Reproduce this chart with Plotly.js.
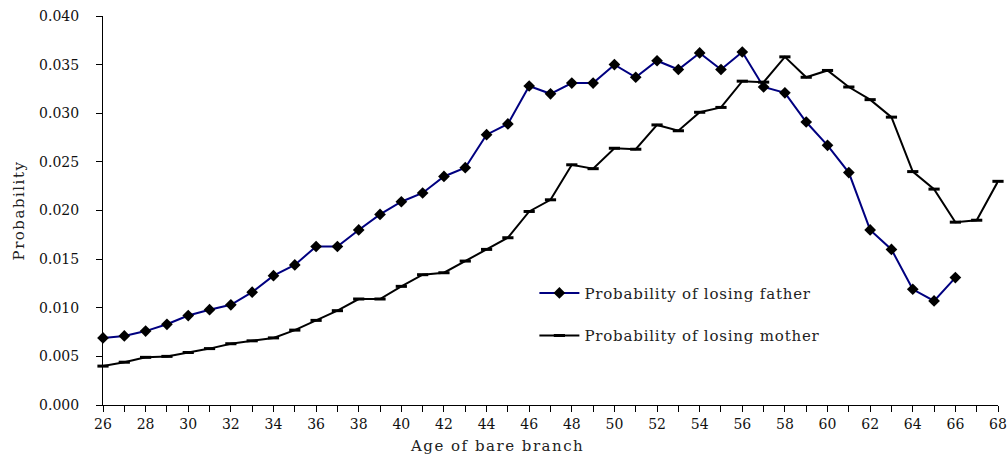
<!DOCTYPE html>
<html>
<head>
<meta charset="utf-8">
<script src="https://cdn.plot.ly/plotly-3.0.1.min.js"></script>
<style>
html,body{margin:0;padding:0;background:#fff;}
#chart{width:1008px;height:458px;}
.legendtext{letter-spacing:0.8px;}
.ytitle,.annotation-text{letter-spacing:1.5px;}
</style>
</head>
<body>
<div id="chart"></div>
<script>
const ages = [26,27,28,29,30,31,32,33,34,35,36,37,38,39,40,41,42,43,44,45,46,47,48,49,50,51,52,53,54,55,56,57,58,59,60,61,62,63,64,65,66,67,68];
const fatherAges = [26,27,28,29,30,31,32,33,34,35,36,37,38,39,40,41,42,43,44,45,46,47,48,49,50,51,52,53,54,55,56,57,58,59,60,61,62,63,64,65,66];
const fatherProb = [0.0069,0.0071,0.0076,0.0083,0.0092,0.0098,0.0103,0.0116,0.0133,0.0144,0.0163,0.0163,0.0180,0.0196,0.0209,0.0218,0.0235,0.0244,0.0278,0.0289,0.0328,0.0320,0.0331,0.0331,0.0350,0.0337,0.0354,0.0345,0.0362,0.0345,0.0363,0.0327,0.0321,0.0291,0.0267,0.0239,0.0180,0.0160,0.0119,0.0107,0.0131];
const motherProb = [0.0040,0.0044,0.0049,0.0050,0.0054,0.0058,0.0063,0.0066,0.0069,0.0077,0.0087,0.0097,0.0109,0.0109,0.0122,0.0134,0.0136,0.0148,0.0160,0.0172,0.0199,0.0211,0.0247,0.0243,0.0264,0.0263,0.0288,0.0282,0.0301,0.0306,0.0333,0.0332,0.0358,0.0337,0.0344,0.0327,0.0314,0.0296,0.0240,0.0222,0.0188,0.0190,0.0230];
const xTickVals = [26,28,30,32,34,36,38,40,42,44,46,48,50,52,54,56,58,60,62,64,66,68];
const seriesNames = ['Probability of losing father','Probability of losing mother'];
const xTitle = 'Age of bare branch';
const yTitle = 'Probability';

const font = 'DejaVu Serif, Liberation Serif, serif';

const traces = [
  {x: fatherAges, y: fatherProb, name: seriesNames[0], type: 'scatter', mode: 'lines+markers',
   line: {color: '#000080', width: 2}, marker: {symbol: 'diamond', size: 9, color: '#000000'},
   cliponaxis: false, legendgroup: 'a'},
  {x: ages, y: motherProb, name: seriesNames[1], type: 'scatter', mode: 'lines+markers',
   line: {color: '#000000', width: 2}, marker: {symbol: 'line-ew', size: 8, line: {width: 3, color: '#000000'}},
   cliponaxis: false, legendgroup: 'b'}
];

const layout = {
  width: 1008, height: 458,
  margin: {l: 103, r: 10, t: 16, b: 53},
  paper_bgcolor: '#ffffff', plot_bgcolor: '#ffffff',
  font: {family: font, size: 14, color: '#222222'},
  showlegend: true,
  legend: {x: 0.482, y: 0.33, xanchor: 'left', yanchor: 'top', bgcolor: 'rgba(0,0,0,0)',
           font: {family: font, size: 15, color: '#222222'}, tracegroupgap: 20, traceorder: 'grouped', itemwidth: 40},
  xaxis: {range: [26, 68], tickvals: xTickVals,
          showline: true, linecolor: '#000', linewidth: 1, zeroline: false, showgrid: false,
          ticks: 'outside', ticklen: 6, tickcolor: '#000', tickfont: {family: font, size: 14, color: '#111'},
          minor: {dtick: 1, tick0: 26, ticks: 'outside', ticklen: 6, tickcolor: '#000', showgrid: false}},
  yaxis: {range: [0, 0.040], dtick: 0.005, tickformat: '.3f',
          showline: true, linecolor: '#000', linewidth: 1, zeroline: false, showgrid: false,
          ticks: 'outside', ticklen: 6, tickcolor: '#000', ticklabelstandoff: 14,
          tickfont: {family: font, size: 14, color: '#111'},
          title: {text: yTitle, standoff: 10, font: {family: font, size: 15, color: '#222'}}},
  annotations: [
    {text: xTitle, xref: 'paper', yref: 'paper', x: 0.44, y: -0.105, xanchor: 'center', yanchor: 'middle',
     showarrow: false, font: {family: font, size: 15, color: '#222'}}
  ]
};

Plotly.newPlot('chart', traces, layout, {displayModeBar: false, staticPlot: true});
</script>
</body>
</html>
